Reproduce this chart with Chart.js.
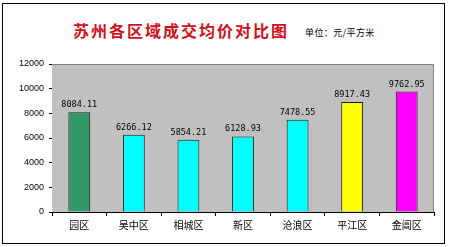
<!DOCTYPE html>
<html>
<head>
<meta charset="utf-8">
<script src="https://cdn.jsdelivr.net/npm/chart.js@4.4.1/dist/chart.umd.min.js"></script>
<style>
    html, body { margin: 0; padding: 0; background: #fff; }
    #wrap { position: relative; width: 450px; height: 247px; overflow: hidden; }
    #frame { position: absolute; left: 2px; top: 3px; width: 441px; height: 239px; border: 1px solid #000; }
    #title { position: absolute; left: 73px; top: 20px; font: bold 16px "Noto Sans CJK SC"; letter-spacing: 2px; color: #d0101a; line-height: 20px; white-space: nowrap; }
    #unit { position: absolute; left: 305px; top: 27px; font: 9px "Noto Sans CJK SC"; color: #000; line-height: 12px; white-space: nowrap; letter-spacing: 0.4px; }
    canvas { position: absolute; left: 0; top: 0; }
</style>
</head>
<body>
<div id="wrap">
    <div id="frame"></div>
    <div id="title">苏州各区域成交均价对比图</div>
    <div id="unit">单位：元/平方米</div>
    <canvas id="chart" width="450" height="247"></canvas>
</div>
<script>
var districts = ['园区', '吴中区', '相城区', '新区', '沧浪区', '平江区', '金阊区'];
var avgPrice = [8084.11, 6266.12, 5854.21, 6128.93, 7478.55, 8917.43, 9762.95];
var barColors = ['#339966', '#00ffff', '#00ffff', '#00ffff', '#00ffff', '#ffff00', '#ff00ff'];
var yTicks = [0, 2000, 4000, 6000, 8000, 10000, 12000];

var plotBack = {
    id: 'plotBack',
    beforeDatasetsDraw: function (chart) {
        var a = chart.chartArea, c = chart.ctx;
        c.save();
        c.fillStyle = '#c0c0c0';
        c.fillRect(a.left, a.top, a.right - a.left, a.bottom - a.top);
        c.strokeStyle = '#808080';
        c.lineWidth = 1;
        c.beginPath();
        c.moveTo(a.left, a.top + 0.5);
        c.lineTo(a.right - 0.5, a.top + 0.5);
        c.lineTo(a.right - 0.5, a.bottom);
        c.stroke();
        c.restore();
    }
};

var valueLabels = {
    id: 'valueLabels',
    afterDatasetsDraw: function (chart) {
        var c = chart.ctx;
        c.save();
        c.font = '8.5px "DejaVu Sans Mono"';
        c.fillStyle = '#000';
        c.textAlign = 'center';
        c.textBaseline = 'bottom';
        chart.getDatasetMeta(0).data.forEach(function (bar, i) {
            c.fillText(avgPrice[i].toFixed(2), bar.x, bar.y - 3);
        });
        c.restore();
    }
};

new Chart(document.getElementById('chart'), {
    type: 'bar',
    data: {
        labels: districts,
        datasets: [{
            data: avgPrice,
            backgroundColor: barColors,
            borderColor: '#1a1a1a',
            borderWidth: 1,
            barPercentage: 0.4,
            categoryPercentage: 1
        }]
    },
    options: {
        responsive: false,
        animation: false,
        layout: { padding: { top: 64, right: 16, left: 0, bottom: 0 } },
        plugins: {
            legend: { display: false },
            title: { display: false },
            tooltip: { enabled: false }
        },
        scales: {
            x: {
                afterFit: function (s) { s.height = 35; },
                grid: { drawOnChartArea: false, drawTicks: true, tickLength: 4, color: '#000' },
                border: { color: '#000' },
                ticks: { color: '#000', padding: 3, font: { family: 'Noto Sans CJK SC', size: 10 } }
            },
            y: {
                min: 0,
                max: 12000,
                afterFit: function (s) { s.width = 52; },
                afterBuildTicks: function (s) { s.ticks = yTicks.map(function (v) { return { value: v }; }); },
                grid: { drawOnChartArea: false, drawTicks: true, tickLength: 3, color: '#000' },
                border: { color: '#000' },
                ticks: {
                    color: '#000',
                    padding: 5,
                    font: { family: 'Liberation Sans', size: 9 },
                    callback: function (value) { return String(value); }
                }
            }
        }
    },
    plugins: [plotBack, valueLabels]
});
</script>
</body>
</html>
